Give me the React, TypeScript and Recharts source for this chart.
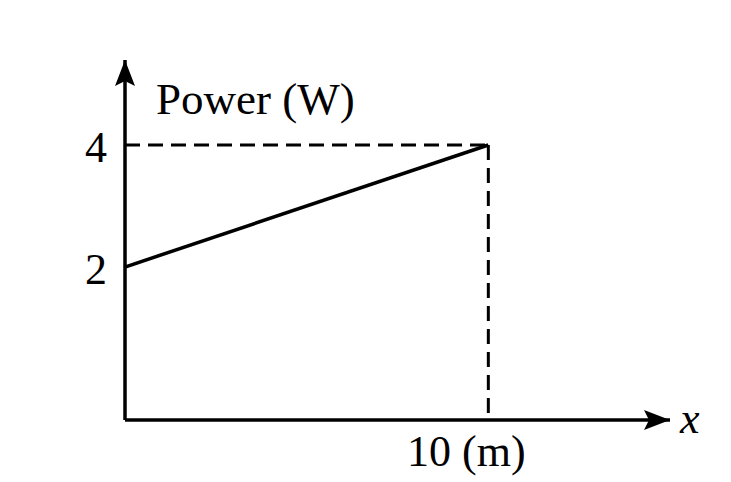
import React from 'react';
import { LineChart, Line, XAxis, YAxis, ReferenceLine } from 'recharts';

const positions = [0, 10];
const powers = [2, 4];
const yTicks = [2, 4];
const xTicks = [10];
const xTickLabels: Record<number, string> = { 10: '10 (m)' };

const Y_MIN = -0.508;
const Y_MAX = 5.394;
const X_MIN = 0;
const X_MAX = 15;

const data = positions.map((x, i) => ({ x, p: powers[i] }));

const FONT = '"Liberation Serif", "DejaVu Serif", serif';

const YTick = (props: any) => {
  const { x, y, payload } = props;
  return (
    <text x={x - 10} y={y + 17} textAnchor="end" fontFamily={FONT} fontSize={44} fill="#000">
      {payload.value}
    </text>
  );
};

const XTick = (props: any) => {
  const { x, payload } = props;
  return (
    <text x={x - 22} y={466} textAnchor="middle" fontFamily={FONT} fontSize={44} fill="#000">
      {xTickLabels[payload.value] ?? payload.value}
    </text>
  );
};

export default function App() {
  return (
    <div style={{ position: 'absolute', left: 0, top: 0, width: 731, height: 482, background: '#fff' }}>
      <LineChart
        width={731}
        height={482}
        data={data}
        margin={{ top: 60, right: 61, left: 85, bottom: 22 }}
      >
        <defs>
          <marker
            id="axisArrow"
            viewBox="0 0 26 20"
            refX={26}
            refY={10}
            markerWidth={26}
            markerHeight={20}
            markerUnits="userSpaceOnUse"
            orient="auto-start-reverse"
          >
            <path d="M0,0 L26,10 L0,20 L5,10 Z" fill="#000" />
          </marker>
        </defs>
        <XAxis
          type="number"
          dataKey="x"
          domain={[X_MIN, X_MAX]}
          ticks={xTicks}
          allowDataOverflow
          height={40}
          tickLine={false}
          axisLine={{ stroke: '#000', strokeWidth: 3.5, markerEnd: 'url(#axisArrow)' } as any}
          tick={<XTick />}
          label={{
            content: () => (
              <text x={680} y={433} fontFamily={FONT} fontStyle="italic" fontSize={44} fill="#000">
                x
              </text>
            ),
          }}
        />
        <YAxis
          type="number"
          domain={[Y_MIN, Y_MAX]}
          ticks={yTicks}
          allowDataOverflow
          width={40}
          tickLine={false}
          axisLine={{ stroke: '#000', strokeWidth: 3.5, markerStart: 'url(#axisArrow)' } as any}
          tick={<YTick />}
          label={{
            content: () => (
              <text x={156} y={114} fontFamily={FONT} fontSize={45} fill="#000">
                Power (W)
              </text>
            ),
          }}
        />
        <ReferenceLine
          segment={[{ x: 0, y: 4 }, { x: 10, y: 4 }]}
          stroke="#000"
          strokeWidth={3}
          strokeDasharray="15 8"
        />
        <ReferenceLine
          segment={[{ x: 10, y: 4 }, { x: 10, y: Y_MIN }]}
          stroke="#000"
          strokeWidth={3}
          strokeDasharray="15 8"
        />
        <Line
          type="linear"
          dataKey="p"
          stroke="#000"
          strokeWidth={3.5}
          dot={false}
          isAnimationActive={false}
        />
      </LineChart>
    </div>
  );
}
